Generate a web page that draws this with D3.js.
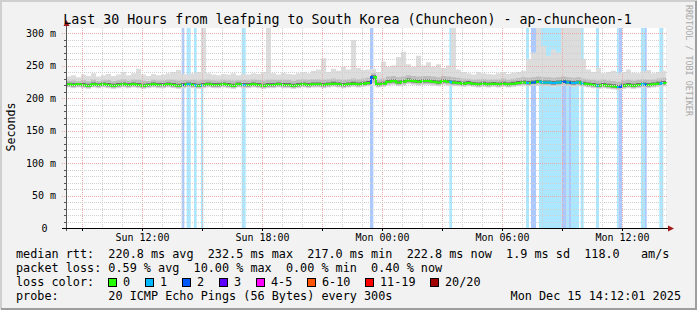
<!DOCTYPE html>
<html lang="en">
<head>
<meta charset="UTF-8">
<title>Smokeping - ap-chuncheon-1</title>
<script src="https://d3js.org/d3.v7.min.js"></script>
<style>
    body { margin: 0; background: #fff; }
    svg { display: block; font-family: "DejaVu Sans Mono", monospace; }
    text { white-space: pre; }
</style>
</head>
<body>
<svg id="chart" width="697" height="310"></svg>
<script>
    const title = "Last 30 Hours from leafping to South Korea (Chuncheon) - ap-chuncheon-1";
    const startTime = "2025-12-14 08:12:01";
    const endTime = "2025-12-15 14:12:01";
    const stepMinutes = 15;

    // median / min / max rtt in ms, one value per 15 minutes
    const rttMedian = [
        221, 220, 221, 220, 219, 221, 220, 221, 220, 219, 220, 221,
        220, 221, 220, 219, 220, 221, 220, 220, 221, 220, 219, 220,
        221, 220, 219, 220, 221, 220, 220, 221, 220, 219, 221, 220,
        220, 221, 220, 219, 220, 220, 221, 220, 220, 219, 220, 221,
        220, 221, 221, 220, 221, 222, 221, 220, 221, 222, 221, 222,
        223, 232.5, 221, 222, 225, 226, 224, 225, 227, 226, 225, 226,
        226, 225, 224, 226, 225, 224, 223, 222, 223, 222, 221, 222,
        221, 222, 221, 222, 221, 222, 223, 224, 223, 224, 225, 224,
        224, 223, 224, 225, 224, 223, 224, 222, 221, 220, 219, 220,
        219, 218, 217, 219, 220, 219, 220, 221, 220, 221, 222, 223,
        222.8
    ];
    const rttMin = [
        216, 215, 216, 215, 214, 216, 215, 216, 215, 214, 215, 216,
        215, 216, 215, 214, 215, 216, 215, 215, 216, 215, 214, 215,
        216, 215, 214, 215, 216, 215, 215, 216, 215, 214, 216, 215,
        215, 216, 215, 214, 215, 215, 216, 215, 215, 214, 215, 216,
        215, 216, 216, 215, 216, 217, 216, 215, 216, 217, 216, 217,
        218, 219, 216, 217, 219, 220, 218, 219, 221, 220, 219, 220,
        220, 219, 218, 220, 219, 218, 218, 217, 218, 217, 216, 217,
        216, 217, 216, 217, 216, 217, 218, 219, 218, 219, 219, 218,
        218, 217, 218, 219, 218, 217, 218, 217, 216, 215, 214, 215,
        214, 213, 212, 214, 215, 214, 215, 216, 215, 216, 217, 218,
        217
    ];
    const rttMax = [
        233, 235, 232, 236, 234, 238, 233, 235, 237, 234, 236, 240,
        235, 238, 245, 236, 234, 237, 235, 236, 238, 240, 243, 237,
        236, 238, 240, 310, 238, 236, 235, 237, 236, 238, 235, 237,
        236, 238, 237, 240, 310, 238, 236, 239, 237, 236, 238, 240,
        238, 242, 244, 261, 240, 245, 242, 248, 244, 289, 246, 243,
        244, 245, 240, 256, 248, 250, 263, 271, 252, 248, 265, 250,
        255, 248, 252, 246, 250, 310, 244, 240, 238, 236, 240, 238,
        237, 236, 238, 240, 237, 239, 240, 242, 260, 270, 310, 280,
        265, 275, 270, 310, 310, 310, 310, 260, 244, 240, 246, 238,
        240, 242, 238, 240, 244, 239, 238, 241, 243, 238, 240, 242,
        240
    ];

    // [from, to, lost pings]
    const lossEvents = [
        ["2025-12-14 13:59", "2025-12-14 14:07", 2],
        ["2025-12-14 14:14", "2025-12-14 14:26", 1],
        ["2025-12-14 14:36", "2025-12-14 14:44", 1],
        ["2025-12-14 14:57", "2025-12-14 15:04", 1],
        ["2025-12-14 16:59", "2025-12-14 17:11", 1],
        ["2025-12-14 23:24", "2025-12-14 23:34", 2],
        ["2025-12-15 03:22", "2025-12-15 03:30", 1],
        ["2025-12-15 07:12", "2025-12-15 07:21", 1],
        ["2025-12-15 07:27", "2025-12-15 07:42", 2],
        ["2025-12-15 07:51", "2025-12-15 08:59", 1],
        ["2025-12-15 08:59", "2025-12-15 09:14", 2],
        ["2025-12-15 09:14", "2025-12-15 09:21", 1],
        ["2025-12-15 09:21", "2025-12-15 09:27", 2],
        ["2025-12-15 09:27", "2025-12-15 09:51", 1],
        ["2025-12-15 09:56", "2025-12-15 10:05", 1],
        ["2025-12-15 10:42", "2025-12-15 10:51", 1],
        ["2025-12-15 11:45", "2025-12-15 11:50", 1],
        ["2025-12-15 11:50", "2025-12-15 12:00", 2],
        ["2025-12-15 12:57", "2025-12-15 13:09", 1],
        ["2025-12-15 13:09", "2025-12-15 13:14", 2],
        ["2025-12-15 13:52", "2025-12-15 14:04", 1]
    ];

    const yTicks = [0, 50, 100, 150, 200, 250, 300];
    const xLabelTimes = ["2025-12-14 12:00", "2025-12-14 18:00", "2025-12-15 00:00", "2025-12-15 06:00", "2025-12-15 12:00"];

    const rttStats = ["220.8 ms avg", "232.5 ms max", "217.0 ms min", "222.8 ms now", "1.9 ms sd", "118.0   am/s"];
    const lossStats = ["0.59 % avg", "10.00 % max", "0.00 % min", "0.40 % now"];
    const lossLabels = ["0", "1", "2", "3", "4-5", "6-10", "11-19", "20/20"];
    const lossColors = ["#26ff00", "#00b8ff", "#0059ff", "#5e00ff", "#ff00ff", "#ff5500", "#ff0000", "#a10000"];
    const probeText = "20 ICMP Echo Pings (56 Bytes) every 300s";
    const stampText = "Mon Dec 15 14:12:01 2025";

    const W = 697, H = 310;
    const plotL = 66, plotR = 666, plotT = 28, plotB = 228;
    const parse = d3.timeParse("%Y-%m-%d %H:%M");
    const parseS = d3.timeParse("%Y-%m-%d %H:%M:%S");
    const t0 = parseS(startTime), t1 = parseS(endTime);

    const x = d3.scaleTime().domain([t0, t1]).range([plotL, plotR]);
    const y = d3.scaleLinear().domain([0, 307.7]).range([plotB, plotT]);

    const data = rttMedian.map(function (m, i) {
        return { t: d3.timeMinute.offset(t0, i * stepMinutes), med: m, lo: rttMin[i], hi: rttMax[i] };
    });
    data[data.length - 1].t = t1;

    const svg = d3.select("#chart");

    // background and 3d frame
    svg.append("rect").attr("width", W).attr("height", H).attr("fill", "#f2f2f2");
    svg.append("path").attr("d", "M1,309V1H697").attr("fill", "none").attr("stroke", "#cfcfcf").attr("stroke-width", 2);
    svg.append("path").attr("d", "M1,309H696V1").attr("fill", "none").attr("stroke", "#9e9e9e").attr("stroke-width", 2);

    svg.append("rect").attr("x", plotL).attr("y", plotT).attr("width", plotR - plotL).attr("height", plotB - plotT).attr("fill", "#fff");

    svg.append("clipPath").attr("id", "plotClip")
        .append("rect").attr("x", plotL).attr("y", plotT).attr("width", plotR - plotL + 1).attr("height", plotB - plotT);

    const plot = svg.append("g").attr("clip-path", "url(#plotClip)");

    // loss background bars
    const lossBg = { 1: "#abe8ff", 2: "#abc8ff" };
    const lossLine = { 1: "#00b8ff", 2: "#0059ff" };
    plot.selectAll("rect.loss").data(lossEvents).join("rect")
        .attr("class", "loss")
        .attr("x", d => x(parse(d[0])))
        .attr("width", d => x(parse(d[1])) - x(parse(d[0])))
        .attr("y", plotT)
        .attr("height", plotB - plotT)
        .attr("fill", d => lossBg[d[2]]);

    // smoke, outer to inner
    const smokeLayers = [
        { lo: 1, hi: 1, cap: 999, color: "#dcdcdc" },
        { lo: 0.7, hi: 0.45, cap: 8, color: "#bdbdbd" },
        { lo: 0.35, hi: 0.2, cap: 3, color: "#707070" }
    ];
    smokeLayers.forEach(function (L) {
        const area = d3.area()
            .curve(d3.curveStepAfter)
            .x(d => x(d.t))
            .y0(d => y(d.med - (d.med - d.lo) * L.lo))
            .y1(d => y(d.med + Math.min((d.hi - d.med) * L.hi, L.cap)));
        plot.append("path").datum(data).attr("d", area).attr("fill", L.color);
    });

    // grid on top of data
    const grid = svg.append("g").attr("fill", "none").attr("stroke-width", 1).attr("stroke-dasharray", "1,1");
    d3.timeHour.range(t0, t1).forEach(function (h) {
        const px = Math.round(x(h)) + 0.5;
        grid.append("line").attr("x1", px).attr("x2", px).attr("y1", plotT).attr("y2", plotB)
            .attr("stroke", h.getHours() % 3 === 0 ? "#eaa8a8" : "#d0d0d0");
    });
    d3.range(10, 310, 10).forEach(function (v) {
        const py = Math.round(y(v)) + 0.5;
        grid.append("line").attr("x1", v % 50 === 0 ? plotL - 4 : plotL).attr("x2", plotR + 2).attr("y1", py).attr("y2", py)
            .attr("stroke", v % 50 === 0 ? "#eaa8a8" : "#d0d0d0");
    });

    // median line, coloured by loss
    const line = d3.line().curve(d3.curveStepAfter).x(d => x(d.t)).y(d => y(d.med));
    plot.append("path").datum(data).attr("d", line).attr("fill", "none").attr("stroke", lossColors[0]).attr("stroke-width", 2);
    lossEvents.forEach(function (e, i) {
        const x0 = x(parse(e[0])), x1 = x(parse(e[1]));
        svg.append("clipPath").attr("id", "lc" + i)
            .append("rect").attr("x", x0).attr("y", plotT).attr("width", x1 - x0).attr("height", plotB - plotT);
        plot.append("path").datum(data).attr("d", line).attr("clip-path", "url(#lc" + i + ")")
            .attr("fill", "none").attr("stroke", lossLine[e[2]]).attr("stroke-width", 2);
    });

    // axes
    const yAxis = svg.append("g").attr("transform", "translate(" + plotL + ",0)")
        .call(d3.axisLeft(y).tickValues(yTicks).tickSize(0).tickPadding(10)
            .tickFormat(d => d === 0 ? "0" : d + " m"));
    yAxis.select(".domain").remove();
    yAxis.selectAll("text").attr("font-size", 10).attr("font-family", "DejaVu Sans Mono").attr("fill", "#000")
        .attr("dx", d => d === 0 ? -8.5 : 0);

    const xAxis = svg.append("g").attr("transform", "translate(0," + plotB + ")")
        .call(d3.axisBottom(x).tickValues(xLabelTimes.map(parse)).tickSize(0).tickPadding(6)
            .tickFormat(d3.timeFormat("%a %H:%M")));
    xAxis.select(".domain").remove();
    xAxis.selectAll("text").attr("font-size", 10).attr("font-family", "DejaVu Sans Mono").attr("fill", "#000");

    const axes = svg.append("g").attr("stroke-width", 1).attr("fill", "none");
    axes.append("line").attr("x1", plotL + 0.5).attr("x2", plotL + 0.5).attr("y1", plotB + 3).attr("y2", 22).attr("stroke", "#555");
    axes.append("line").attr("x1", plotL - 4).attr("x2", 670).attr("y1", plotB + 0.5).attr("y2", plotB + 0.5).attr("stroke", "#000");
    d3.timeHour.range(t0, t1).filter(h => h.getHours() % 3 === 0).forEach(function (h) {
        const px = Math.round(x(h)) + 0.5;
        axes.append("line").attr("x1", px).attr("x2", px).attr("y1", plotB).attr("y2", plotB + 3).attr("stroke", "#000");
    });
    d3.range(10, 310, 10).filter(v => v % 50 !== 0).forEach(function (v) {
        const py = Math.round(y(v)) + 0.5;
        axes.append("line").attr("x1", plotL - 2).attr("x2", plotL).attr("y1", py).attr("y2", py).attr("stroke", "#555");
    });
    svg.append("path").attr("d", "M" + (plotL + 0.5) + ",20L" + (plotL + 3.5) + ",26L" + (plotL - 2.5) + ",26Z").attr("fill", "#a01818");
    svg.append("path").attr("d", "M674," + (plotB + 0.5) + "L668," + (plotB - 2.5) + "L668," + (plotB + 3.5) + "Z").attr("fill", "#a01818");

    // texts
    svg.append("text").attr("x", 347.5).attr("y", 24).attr("text-anchor", "middle").attr("font-size", 13.3).text(title);
    svg.append("text").attr("transform", "translate(15,127) rotate(-90)").attr("text-anchor", "middle")
        .attr("font-size", 11.6).text("Seconds");
    svg.append("text").attr("transform", "translate(686,5) rotate(90)").attr("font-size", 8.4).attr("fill", "#a8a8a8")
        .text("RRDTOOL / TOBI OETIKER");

    // legend, laid out on the monospace grid like rrdtool does
    const legend = svg.append("g").attr("font-size", 11.8).attr("fill", "#000");
    const rowY = [258, 272, 286, 300];
    legend.append("text").attr("x", 16).attr("y", rowY[0]).text("median rtt:  " + rttStats.join("  "));
    legend.append("text").attr("x", 16).attr("y", rowY[1]).text("packet loss: " + lossStats.join("  "));
    legend.append("text").attr("x", 16).attr("y", rowY[2]).text("loss color:");
    legend.append("text").attr("x", 16).attr("y", rowY[3]).text("probe:       " + probeText);
    legend.append("text").attr("x", 681).attr("y", rowY[3]).attr("text-anchor", "end").text(stampText);

    let lx = 108;
    lossLabels.forEach(function (lab, i) {
        legend.append("rect").attr("x", lx + 0.5).attr("y", rowY[2] - 7.5).attr("width", 8).attr("height", 8)
            .attr("fill", lossColors[i]).attr("stroke", "#000");
        legend.append("text").attr("x", lx + 15).attr("y", rowY[2]).text(lab);
        lx += 15 + lab.length * 7 + 15;
    });
</script>
</body>
</html>
